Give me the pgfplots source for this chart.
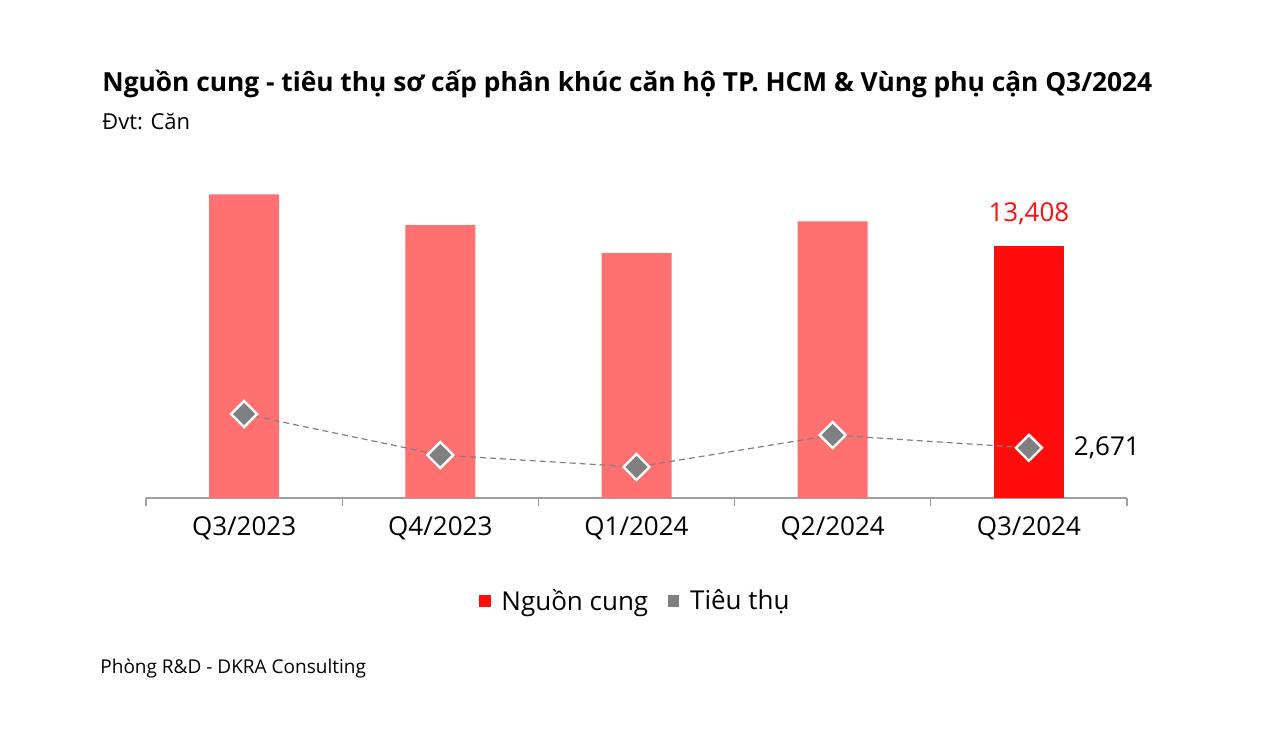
\documentclass[border=0pt]{standalone}
\usepackage{pgfplots}
\pgfplotsset{compat=1.18}
\usepackage{fontspec}
\setmainfont{Open Sans}
\definecolor{barlight}{HTML}{FF7070}
\definecolor{barred}{HTML}{FF0D0D}
\definecolor{linegray}{HTML}{808080}
\definecolor{axisgray}{HTML}{A0A0A0}
\begin{document}
\begin{tikzpicture}
% canvas 1280x734 px at 0.5pt per px
\fill[white] (0,0) rectangle (640pt,367pt);
\node[anchor=base west, inner sep=0pt, font=\bfseries\fontsize{13.15}{16}\selectfont] at (51pt,321pt)
  {Nguồn cung - tiêu thụ sơ cấp phân khúc căn hộ TP. HCM \& Vùng phụ cận Q3/2024};
\node[anchor=base west, inner sep=0pt, font=\fontsize{11}{13}\selectfont] at (51pt,302pt) {Đvt: Căn};
\node[anchor=base west, inner sep=0pt, font=\fontsize{9.5}{11}\selectfont] at (50pt,30.5pt) {Phòng R\&D - DKRA Consulting};
\begin{axis}[
    at={(73pt,118pt)}, anchor=south west,
    scale only axis,
    width=490.5pt, height=169pt,
    xmin=-0.5, xmax=4.5,
    ymin=0, ymax=18000,
    axis x line*=bottom,
    axis y line=none,
    axis line style={axisgray, line width=0.6pt},
    xtick={0,1,2,3,4},
    xticklabels={Q3/2023,Q4/2023,Q1/2024,Q2/2024,Q3/2024},
    major tick length=0pt,
    xticklabel style={font=\fontsize{13}{15}\selectfont, yshift=-6pt},
    extra x ticks={-0.5,0.5,1.5,2.5,3.5,4.5},
    extra x tick labels={},
    extra x tick style={major tick length=4pt, tick align=outside, tick style={axisgray, line width=0.6pt}},
    legend style={at={(0.5,-0.305)}, anchor=center, draw=none, fill=none,
        legend columns=2, font=\fontsize{13}{15}\selectfont,
        /tikz/every even column/.append style={column sep=8pt}},
    clip=false,
]
\addplot[ybar, bar width=35pt, bar shift=0pt, fill=barlight, draw=none, forget plot]
  coordinates {(0,16175) (1,14525) (2,13035) (3,14737)};
\addplot[ybar, bar width=35pt, bar shift=0pt, fill=barred, draw=none,
    legend image code/.code={\fill[barred] (0pt,-2.8pt) rectangle (5.6pt,2.8pt); \path[draw=none] (0pt,0pt) -- (9pt,0pt);}]
  coordinates {(4,13408)};
\addlegendentry{Nguồn cung}
\addplot[linegray, line width=0.6pt, dash pattern=on 3pt off 2pt,
    mark=square*, mark size=4.6pt,
    mark options={solid, rotate=45, fill=linegray, draw=white, line width=1.2pt},
    legend image code/.code={\fill[linegray, draw=none] (0pt,-2.8pt) rectangle (5.6pt,2.8pt); \path[draw=none] (0pt,0pt) -- (9pt,0pt);}]
  coordinates {(0,4469) (1,2288) (2,1649) (3,3352) (4,2671)};
\addlegendentry{Tiêu thụ}
\node[anchor=south, font=\fontsize{13}{15}\selectfont, text=barred] at (axis cs:4,13408) [yshift=7pt] {13,408};
\node[anchor=west, font=\fontsize{13}{15}\selectfont] at (axis cs:4,2671) [xshift=19pt] {2,671};
\end{axis}
\end{tikzpicture}
\end{document}
